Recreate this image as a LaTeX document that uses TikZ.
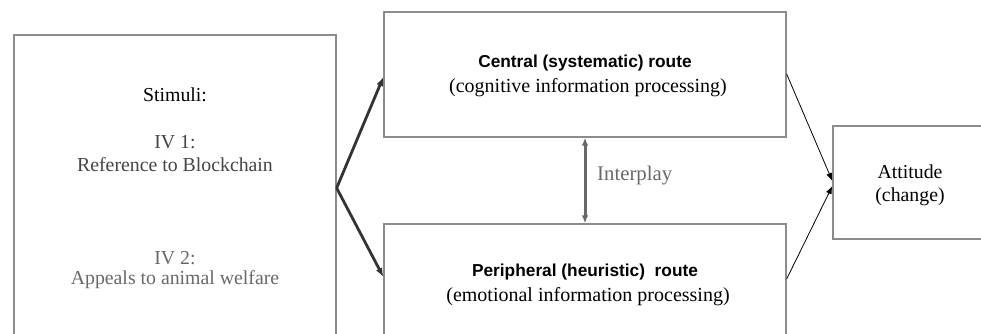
\documentclass[tikz,border=0pt]{standalone}
\usepackage{fontspec}
\setmainfont{Liberation Serif}
\newfontfamily\arialfont{Liberation Sans}
\usetikzlibrary{arrows.meta}
\definecolor{boxgray}{HTML}{8C8C8C}
\definecolor{txtgray}{HTML}{444444}
\definecolor{ltgray}{HTML}{686868}
\begin{document}
\begin{tikzpicture}[x=1pt,y=-1pt,
  box/.style={draw=boxgray,line width=1.3pt,inner sep=0pt},
  lbl/.style={inner sep=0pt,font=\fontsize{19.8}{23}\selectfont,align=center},
  rlbl/.style={inner sep=0pt,font=\fontsize{20}{23}\selectfont,align=center},
  hd/.style={inner sep=0pt,font=\arialfont\bfseries\fontsize{17.3}{20}\selectfont},
  thickarr/.style={draw=black!80,line width=2.8pt,-{Latex[length=9pt,width=7pt]}},
  thinarr/.style={draw=black,line width=0.8pt,-{Latex[length=8pt,width=6pt]}},
  interarr/.style={draw=ltgray,line width=3pt,{Latex[length=8pt,width=6.5pt]}-{Latex[length=8pt,width=6.5pt]}}]
\useasboundingbox (0,0) rectangle (981,334);
\clip (0,0) rectangle (981,334);
% boxes
\node[box,minimum width=322pt,minimum height=330pt] (stim) at (175,200) {};
\node[box,minimum width=402pt,minimum height=125pt] (central) at (585,74.5) {};
\node[box,minimum width=402pt,minimum height=130pt] (periph) at (585,289) {};
\node[box,minimum width=160pt,minimum height=113pt] (att) at (913,182.5) {};
% texts
\node[lbl] (t1) at (175,95) {Stimuli:};
\node[lbl,text=txtgray] (t2) at (175,142) {IV 1:};
\node[lbl,text=txtgray] (t3) at (175,165) {Reference to Blockchain};
\node[lbl,text=ltgray] (t4) at (175,258) {IV 2:};
\node[lbl,text=ltgray] (t5) at (175,280) {Appeals to animal welfare};
\node[hd] (c1) at (585,63) {Central (systematic) route};
\node[rlbl] (c2) at (588,88) {(cognitive information processing)};
\node[hd] (p1) at (585,272) {Peripheral (heuristic)\ \ route};
\node[rlbl] (p2) at (588,297) {(emotional information processing)};
\node[lbl] (a1) at (910,172) {Attitude};
\node[lbl] (a2) at (910,197) {(change)};
\node[rlbl,text=ltgray,anchor=west,font=\fontsize{20.8}{24}\selectfont] (ip) at (597,176) {Interplay};
% connectors
\coordinate (v) at (stim.east |- 0,188);
\coordinate (ce) at (central.west |- 0,77);
\coordinate (pe) at (periph.west |- 0,277);
\draw[thickarr] (v) -- (ce);
\draw[thickarr] (v) -- (pe);
\draw[interarr] (central.south) -- (periph.north);
\coordinate (co) at (central.east |- 0,74);
\coordinate (po) at (periph.east |- 0,279);
\coordinate (ai1) at (att.west |- 0,181);
\coordinate (ai2) at (att.west |- 0,186);
\draw[thinarr] (co) -- (ai1);
\draw[thinarr] (po) -- (ai2);
\end{tikzpicture}
\end{document}
